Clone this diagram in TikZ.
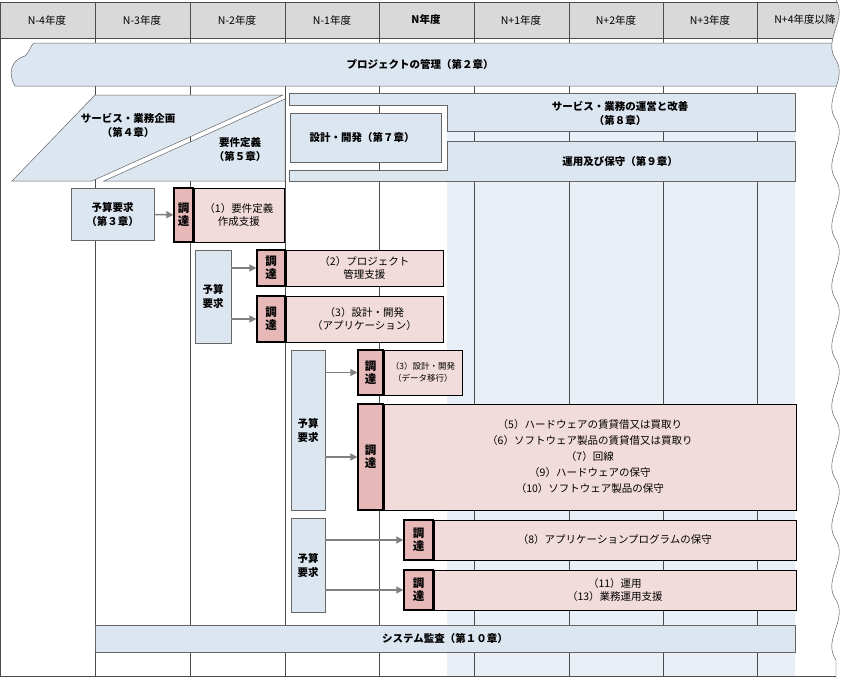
\documentclass[tikz,border=0pt]{standalone}
\usepackage{fontspec}
\setmainfont{Noto Sans CJK JP}
\usetikzlibrary{arrows.meta}
\definecolor{bb}{HTML}{DCE6F1}
\definecolor{lb}{HTML}{E9EFF7}
\definecolor{pk}{HTML}{F2DCDB}
\definecolor{dpk}{HTML}{E6B8B7}
\definecolor{hd}{HTML}{D9D9D9}
\tikzset{x=1pt,y=-1pt,
 blu/.style={fill=bb,draw=black!60,line width=0.5pt},
 chot/.style={fill=dpk,draw=black,line width=1.3pt,font=\bfseries\fontsize{11.5}{13}\selectfont,align=center,inner sep=0},
 pink/.style={fill=pk,draw=black,line width=0.5pt},
 txt/.style={font=\fontsize{10.5}{13.5}\selectfont,align=center},
 btxt/.style={font=\bfseries\fontsize{10.5}{14}\selectfont,align=center},
 arr/.style={-{Triangle[length=7pt,width=7pt]},draw=gray,line width=1.5pt}}
\begin{document}
\begin{tikzpicture}
\useasboundingbox (0,0) rectangle (865,678);
\fill[white] (0,0) rectangle (865,678);
\fill[lb] (447,130) rectangle (795,676);
% header
\fill[hd] (0,2) rectangle (852,38);
\foreach \x in {0,95,190,285,379,474,569,663,757}{\draw[black!70] (\x,2) -- (\x,676);}
\draw[black!70] (0,2) -- (852,2) (0,38) -- (852,38) (0,676)--(852,676);
\foreach \x/\t in {47/N-4年度,142/N-3年度,237/N-2年度,332/N-1年度,426/\textbf{N年度},521/N+1年度,616/N+2年度,710/N+3年度,805/N+4年度以降}
 \node[font=\fontsize{10.5}{11}\selectfont] (h\x) at (\x,20) {\t};
% project mgmt
\draw[blu] (34,43) -- (850,43) -- (850,86) -- (15,86) .. controls (8,75) and (10,60) .. (25,56) .. controls (30,52) and (30,46) .. (34,43) -- cycle;
\node[btxt] (pm) at (420,64) {プロジェクトの管理（第２章）};
% wavy edge
\fill[white] (836,0) .. controls (848,20) and (822,40) .. (836,60) .. controls (848,80) and (822,100) .. (836,120)
 .. controls (848,140) and (822,160) .. (836,180) .. controls (848,200) and (822,220) .. (836,240)
 .. controls (848,260) and (822,280) .. (836,300) .. controls (848,320) and (822,340) .. (836,360)
 .. controls (848,380) and (822,400) .. (836,420) .. controls (848,440) and (822,460) .. (836,480)
 .. controls (848,500) and (822,520) .. (836,540) .. controls (848,560) and (822,580) .. (836,600)
 .. controls (848,620) and (822,640) .. (836,660) -- (836,678) -- (865,678) -- (865,0) -- cycle;
\draw[black!70] (836,0) .. controls (848,20) and (822,40) .. (836,60) .. controls (848,80) and (822,100) .. (836,120)
 .. controls (848,140) and (822,160) .. (836,180) .. controls (848,200) and (822,220) .. (836,240)
 .. controls (848,260) and (822,280) .. (836,300) .. controls (848,320) and (822,340) .. (836,360)
 .. controls (848,380) and (822,400) .. (836,420) .. controls (848,440) and (822,460) .. (836,480)
 .. controls (848,500) and (822,520) .. (836,540) .. controls (848,560) and (822,580) .. (836,600)
 .. controls (848,620) and (822,640) .. (836,660) -- (836,678);
% planning
\draw[blu] (95,95) -- (283,95) -- (92,181) -- (12,181) -- cycle;
\draw[blu] (285,99) -- (285,181) -- (104,181) -- cycle;
\node[btxt] (sv) at (128,125) {サービス・業務企画\\（第４章）};
\node[btxt] (rq) at (240,150) {要件定義\\（第５章）};
% operation band
\draw[blu] (289,93) -- (795,93) -- (795,131) -- (447,131) -- (447,105) -- (289,105) -- cycle;
\node[btxt] (op) at (620,113) {サービス・業務の運営と改善\\（第８章）};
\draw[blu] (447,141) -- (795,141) -- (795,181) -- (289,181) -- (289,170) -- (447,170) -- cycle;
\node[btxt] (mt) at (620,161) {運用及び保守（第９章）};
\draw[blu] (290,113) rectangle (441,162);
\node[btxt] (dv) at (362,137) {設計・開発（第７章）};
% row 1
\node[blu,btxt,minimum width=83pt,minimum height=52pt] (b1) at (112.5,214) {予算要求\\（第３章）};
\node[chot,minimum width=19pt,minimum height=54pt] (c1) at (183.5,215) {調\\達};
\node[pink,txt,minimum width=90pt,minimum height=54pt,anchor=west] (p1) at (c1.east) {（1）要件定義\\作成支援};
\draw[arr] (b1) -- (c1);
% row 2
\node[blu,btxt,minimum width=36pt,minimum height=93pt] (b2) at (213,296.5) {予算\\要求};
\node[chot,minimum width=28pt,minimum height=36pt] (c2) at (271,268) {調\\達};
\node[pink,txt,minimum width=157pt,minimum height=36pt,anchor=west] (p2) at (c2.east) {（2）プロジェクト\\管理支援};
\node[chot,minimum width=28pt,minimum height=46pt] (c3) at (271,319) {調\\達};
\node[pink,txt,minimum width=157pt,minimum height=46pt,anchor=west] (p3) at (c3.east) {（3）設計・開発\\（アプリケーション）};
\draw[arr] (b2.east |- c2) -- (c2);
\draw[arr] (b2.east |- c3) -- (c3);
% row 3
\node[blu,btxt,minimum width=34pt,minimum height=160pt] (b3) at (308,430) {予算\\要求};
\node[chot,minimum width=25pt,minimum height=45pt] (c4) at (370.5,372.5) {調\\達};
\node[pink,font=\fontsize{8.5}{12}\selectfont,align=center,minimum width=78pt,minimum height=45pt,anchor=west] (p4) at (c4.east) {（3）設計・開発\\（データ移行）};
\node[chot,minimum width=25pt,minimum height=106pt] (c5) at (370.5,457) {調\\達};
\node[pink,txt,font=\fontsize{10.5}{16}\selectfont,minimum width=412pt,minimum height=106pt,anchor=west] (p5) at (c5.east) {（5）ハードウェアの賃貸借又は買取り\\（6）ソフトウェア製品の賃貸借又は買取り\\（7）回線\\（9）ハードウェアの保守\\（10）ソフトウェア製品の保守};
\draw[arr] (b3.east |- c4) -- (c4);
\draw[arr] (b3.east |- c5) -- (c5);
% row 4
\node[blu,btxt,minimum width=34pt,minimum height=94pt] (b4) at (308,565) {予算\\要求};
\node[chot,minimum width=29pt,minimum height=40pt] (c6) at (418.5,540) {調\\達};
\node[pink,txt,minimum width=362pt,minimum height=40pt,anchor=west] (p6) at (c6.east) {（8）アプリケーションプログラムの保守};
\node[chot,minimum width=29pt,minimum height=40pt] (c7) at (418.5,590) {調\\達};
\node[pink,txt,minimum width=362pt,minimum height=40pt,anchor=west] (p7) at (c7.east) {（11）運用\\（13）業務運用支援};
\draw[arr] (b4.east |- c6) -- (c6);
\draw[arr] (b4.east |- c7) -- (c7);
% audit
\draw[blu] (95,625) rectangle (795,652);
\node[btxt] (au) at (445,638.5) {システム監査（第１０章）};
\end{tikzpicture}
\end{document}
